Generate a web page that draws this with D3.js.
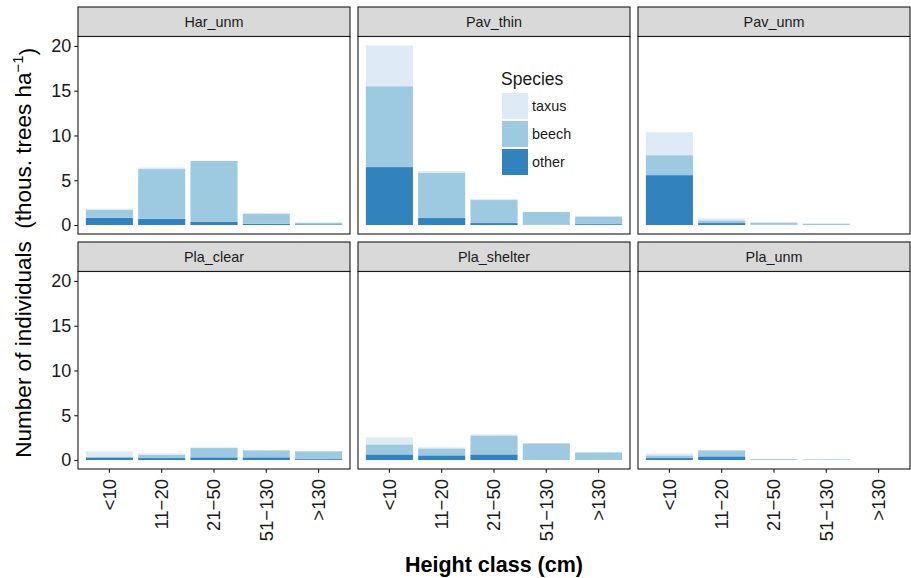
<!DOCTYPE html>
<html>
<head>
<meta charset="utf-8">
<script src="https://cdn.jsdelivr.net/npm/d3@7/dist/d3.min.js"></script>
<style>
  html, body { margin: 0; padding: 0; background: #fff; }
  svg text { font-family: "Liberation Sans", Arial, Helvetica, sans-serif; }
</style>
</head>
<body>
<svg id="chart" width="911" height="578"></svg>
<script>
// ---------- data ----------
const sites = ["Har_unm", "Pav_thin", "Pav_unm", "Pla_clear", "Pla_shelter", "Pla_unm"];
const heightClasses = ["<10", "11\u221220", "21\u221250", "51\u2212130", ">130"];
const species = ["taxus", "beech", "other"];
const stackOrder = ["other", "beech", "taxus"];
const speciesColors = ["#deebf7", "#9ecae1", "#3182bd"];
// values in thousand trees per ha, one row per site, one column per height class
const otherValues = [
  [0.82, 0.70, 0.37, 0.15, 0.08],
  [6.47, 0.78, 0.22, 0.02, 0.10],
  [5.57, 0.22, 0.02, 0.00, 0.00],
  [0.30, 0.22, 0.30, 0.30, 0.10],
  [0.63, 0.52, 0.63, 0.00, 0.00],
  [0.22, 0.41, 0.00, 0.00, 0.00]
];
const beechValues = [
  [0.90, 5.55, 6.78, 1.12, 0.18],
  [9.03, 5.05, 2.57, 1.43, 0.85],
  [2.23, 0.30, 0.25, 0.15, 0.00],
  [0.00, 0.34, 1.04, 0.78, 0.87],
  [1.12, 0.78, 2.12, 1.86, 0.85],
  [0.30, 0.67, 0.10, 0.08, 0.00]
];
const taxusValues = [
  [0.10, 0.15, 0.02, 0.00, 0.02],
  [4.55, 0.20, 0.10, 0.00, 0.00],
  [2.57, 0.22, 0.00, 0.00, 0.00],
  [0.67, 0.18, 0.07, 0.00, 0.00],
  [0.78, 0.11, 0.11, 0.00, 0.00],
  [0.22, 0.00, 0.00, 0.00, 0.00]
];
const yTicks = [0, 5, 10, 15, 20];

// ---------- layout ----------
const svg = d3.select("#chart");
const plotLeft = 78, plotRight = 910, gapX = 8;
const ncol = 3;
const panelW = (plotRight - plotLeft - gapX * (ncol - 1)) / ncol;
const stripH = 29.5, panelH = 197.5;
const rowTops = [7, 242];

const color = d3.scaleOrdinal().domain(species).range(speciesColors);

const tables = sites.map((s, i) => heightClasses.map((h, j) => ({
  cls: h,
  other: otherValues[i][j],
  beech: beechValues[i][j],
  taxus: taxusValues[i][j]
})));
const maxTotal = d3.max(tables.flat(), d => d.other + d.beech + d.taxus);

const x = d3.scaleBand().domain(heightClasses).range([0, panelW])
  .paddingInner(0.1).paddingOuter(0.15);
const y = d3.scaleLinear().domain([-0.05 * maxTotal, 1.05 * maxTotal]).range([panelH, 0]);
const stack = d3.stack().keys(stackOrder);

sites.forEach((site, i) => {
  const col = i % ncol, row = Math.floor(i / ncol);
  const px = plotLeft + col * (panelW + gapX);
  const stripTop = rowTops[row];
  const py = stripTop + stripH;

  // strip
  svg.append("rect").attr("x", px).attr("y", stripTop).attr("width", panelW).attr("height", stripH)
    .attr("fill", "#d9d9d9").attr("stroke", "#1a1a1a").attr("stroke-width", 1.1);
  svg.append("text").attr("x", px + panelW / 2).attr("y", stripTop + stripH / 2)
    .attr("dy", "0.36em").attr("text-anchor", "middle")
    .attr("font-size", "14.4px").attr("fill", "#1a1a1a").text(site);

  const g = svg.append("g").attr("transform", `translate(${px},${py})`);
  g.append("rect").attr("width", panelW).attr("height", panelH).attr("fill", "#fff");

  const series = stack(tables[i]);
  g.selectAll("g.layer").data(series).join("g").attr("class", "layer")
    .attr("fill", d => color(d.key))
    .selectAll("rect").data(d => d).join("rect")
    .attr("x", d => x(d.data.cls))
    .attr("width", x.bandwidth())
    .attr("y", d => y(d[1]))
    .attr("height", d => Math.max(0, y(d[0]) - y(d[1])));

  g.append("rect").attr("width", panelW).attr("height", panelH)
    .attr("fill", "none").attr("stroke", "#1a1a1a").attr("stroke-width", 1.1);

  if (col === 0) {
    const ya = g.append("g").call(d3.axisLeft(y).tickValues(yTicks).tickSize(3.7).tickPadding(3));
    ya.select(".domain").remove();
    ya.selectAll("line").attr("stroke", "#1a1a1a").attr("stroke-width", 1.1);
    ya.selectAll("text").attr("font-size", "18px").attr("fill", "#1a1a1a")
      .attr("font-family", "Liberation Sans, Arial, sans-serif");
  }
  if (row === 1) {
    const xa = g.append("g").attr("transform", `translate(0,${panelH})`)
      .call(d3.axisBottom(x).tickSize(3.7).tickPadding(3));
    xa.select(".domain").remove();
    xa.selectAll("line").attr("stroke", "#1a1a1a").attr("stroke-width", 1.1);
    xa.selectAll("text").attr("font-size", "18.5px").attr("fill", "#1a1a1a")
      .attr("font-family", "Liberation Sans, Arial, sans-serif")
      .attr("text-anchor", "end")
      .attr("transform", "translate(0,10) rotate(-90)")
      .attr("x", 0).attr("y", 0).attr("dy", "0.35em");
  }

  // legend inside Pav_thin
  if (site === "Pav_thin") {
    const lg = svg.append("g").attr("transform", `translate(${502},${93})`);
    lg.append("text").attr("x", -1).attr("y", -8).attr("font-size", "17.5px")
      .attr("fill", "#1a1a1a").text("Species");
    species.forEach((s, k) => {
      lg.append("rect").attr("x", 0).attr("y", k * 28).attr("width", 26).attr("height", 26)
        .attr("fill", color(s));
      lg.append("text").attr("x", 30).attr("y", k * 28 + 13).attr("dy", "0.35em")
        .attr("font-size", "14.4px").attr("fill", "#1a1a1a").text(s);
    });
  }
});

// axis titles
const yTitle = svg.append("text")
  .attr("transform", `translate(31,${(rowTops[0] + stripH + rowTops[1] + stripH + panelH) / 2}) rotate(-90)`)
  .attr("text-anchor", "middle").attr("font-size", "22.5px").attr("fill", "#000");
yTitle.append("tspan").text("Number of individuals\u00a0\u00a0(thous. trees ha");
yTitle.append("tspan").attr("dy", "-0.55em").attr("font-size", "15px").text("\u22121");
yTitle.append("tspan").attr("dy", "0.55em").text(")");

svg.append("text").attr("x", (plotLeft + plotRight) / 2).attr("y", 572)
  .attr("text-anchor", "middle").attr("font-size", "21.5px").attr("font-weight", "bold")
  .attr("fill", "#000").text("Height class (cm)");
</script>
</body>
</html>
